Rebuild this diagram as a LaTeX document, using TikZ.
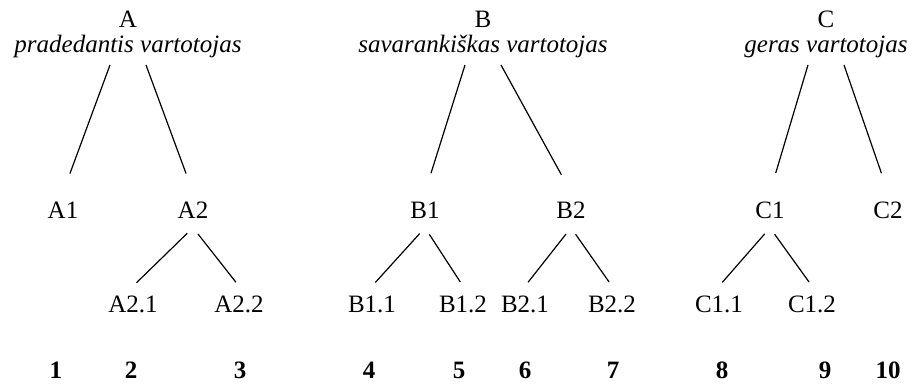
\documentclass[tikz,border=0pt]{standalone}
\usepackage{fontspec}
\setmainfont{Liberation Serif}
\tikzset{
  root/.style={align=center, anchor=south, inner ysep=3.5pt, font=\fontsize{12.5}{12.5}\selectfont},
  item/.style={inner xsep=2pt, inner ysep=4.5pt, font=\fontsize{12.5}{15}\selectfont},
  num/.style={font=\fontsize{12.5}{15}\selectfont\bfseries},
  branch/.style={line width=0.6pt, shorten <=4pt, shorten >=2.5pt},
  trunk/.style={line width=0.6pt, shorten >=10pt}
}
\begin{document}
\begin{tikzpicture}[x=0.5pt, y=-0.5pt]
\useasboundingbox (0,0) rectangle (917,384);

% Roots
\node (A) [root] at (128,65) {A\\\textit{pradedantis vartotojas}};
\node (B) [root] at (483,65) {B\\\textit{savarankiškas vartotojas}};
\node (C) [root] at (826,65) {C\\\textit{geras vartotojas}};

% First level
\node (A1) [item] at (63,210) {A1};
\node (A2) [item] at (193,210) {A2};
\node (B1) [item] at (425,210) {B1};
\node (B2) [item] at (571,210) {B2};
\node (C1) [item] at (770,210) {C1};
\node (C2) [item] at (888,210) {C2};

% Second level
\node (A21) [item] at (133,304) {A2.1};
\node (A22) [item] at (239,304) {A2.2};
\node (B11) [item] at (372,304) {B1.1};
\node (B12) [item] at (463,304) {B1.2};
\node (B21) [item] at (525,304) {B2.1};
\node (B22) [item] at (612,304) {B2.2};
\node (C11) [item] at (719,304) {C1.1};
\node (C12) [item] at (812,304) {C1.2};

% Numbers
\node (n1) [num] at (56,370) {1};
\node (n2) [num] at (131,370) {2};
\node (n3) [num] at (240,370) {3};
\node (n4) [num] at (369,370) {4};
\node (n5) [num] at (459,370) {5};
\node (n6) [num] at (525,370) {6};
\node (n7) [num] at (613,370) {7};
\node (n8) [num] at (722,370) {8};
\node (n9) [num] at (825,370) {9};
\node (n10) [num] at (888,370) {10};

% Branches
\draw [trunk] ([xshift=-9pt]A.south) -- (A1.north);
\draw [trunk] ([xshift=9pt]A.south) -- (A2.north);
\draw [trunk] ([xshift=-9pt]B.south) -- (B1.north);
\draw [trunk] ([xshift=9pt]B.south) -- (B2.north);
\draw [trunk] ([xshift=-9pt]C.south) -- (C1.north);
\draw [trunk] ([xshift=9pt]C.south) -- (C2.north);

\draw [branch] (A2.south) -- (A21.north);
\draw [branch] (A2.south) -- (A22.north);
\draw [branch] (B1.south) -- (B11.north);
\draw [branch] (B1.south) -- (B12.north);
\draw [branch] (B2.south) -- (B21.north);
\draw [branch] (B2.south) -- (B22.north);
\draw [branch] (C1.south) -- (C11.north);
\draw [branch] (C1.south) -- (C12.north);

\end{tikzpicture}
\end{document}
